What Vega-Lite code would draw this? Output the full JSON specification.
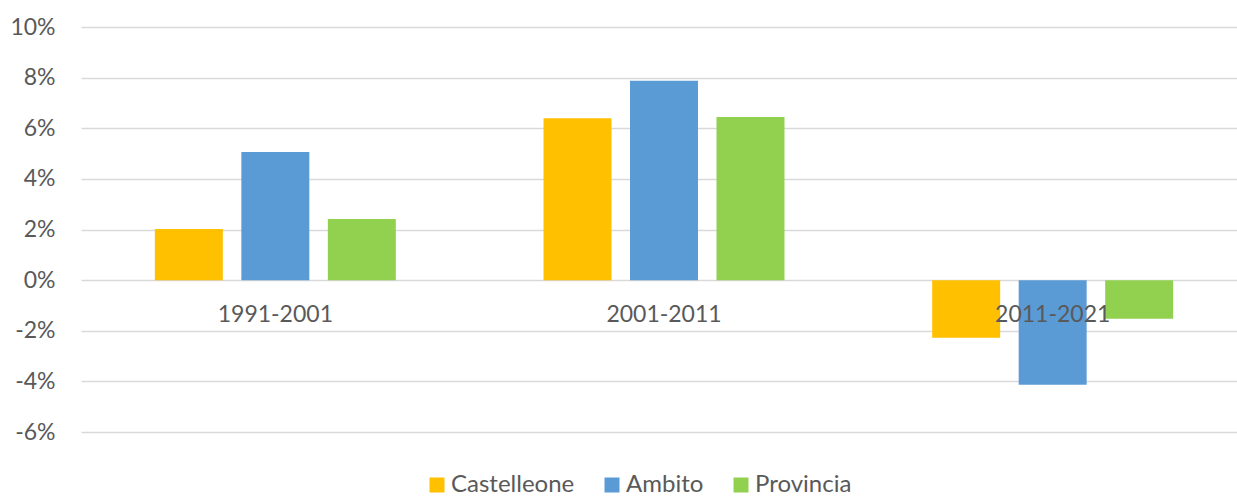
{
  "$schema": "https://vega.github.io/schema/vega-lite/v6.json",
  "width": 1166,
  "height": 405,
  "autosize": {"type": "none"},
  "padding": {"left": 81, "top": 27, "right": 0, "bottom": 64},
  "background": "white",
  "config": {"view": {"stroke": null}, "font": "Lato"},
  "data": {"values": [
    {"periodo": "1991-2001", "serie": "Castelleone", "valore": 0.0202},
    {"periodo": "1991-2001", "serie": "Ambito", "valore": 0.0506},
    {"periodo": "1991-2001", "serie": "Provincia", "valore": 0.0241},
    {"periodo": "2001-2011", "serie": "Castelleone", "valore": 0.064},
    {"periodo": "2001-2011", "serie": "Ambito", "valore": 0.0788},
    {"periodo": "2001-2011", "serie": "Provincia", "valore": 0.0644},
    {"periodo": "2011-2021", "serie": "Castelleone", "valore": -0.0228},
    {"periodo": "2011-2021", "serie": "Ambito", "valore": -0.0413},
    {"periodo": "2011-2021", "serie": "Provincia", "valore": -0.0153}
  ]},
  "mark": {"type": "bar"},
  "encoding": {
    "x": {
      "field": "periodo", "type": "nominal",
      "scale": {"paddingInner": 0.38, "paddingOuter": 0.19},
      "axis": {"title": null, "orient": "bottom", "offset": -152, "domain": false, "ticks": false, "zindex": 1,
               "labelAngle": 0, "labelFontSize": 23, "labelColor": "#595959", "labelPadding": 23, "labelFont": "Lato"}
    },
    "xOffset": {
      "field": "serie", "type": "nominal",
      "sort": ["Castelleone", "Ambito", "Provincia"],
      "scale": {"paddingInner": 0.214, "paddingOuter": 0}
    },
    "y": {
      "field": "valore", "type": "quantitative",
      "scale": {"domain": [-0.06, 0.1], "nice": false},
      "axis": {"title": null, "values": [-0.06, -0.04, -0.02, 0, 0.02, 0.04, 0.06, 0.08, 0.1],
               "labelExpr": "replace(format(datum.value, '.0%'), '\u2212', '-')",
               "domain": false, "ticks": false, "labelPadding": 26, "labelFontSize": 23, "labelColor": "#595959",
               "gridColor": "#d9d9d9", "gridWidth": 1.3, "labelFont": "Lato"}
    },
    "color": {
      "field": "serie", "type": "nominal",
      "sort": ["Castelleone", "Ambito", "Provincia"],
      "scale": {"domain": ["Castelleone", "Ambito", "Provincia"], "range": ["#FFC000", "#5B9BD5", "#92D050"]},
      "legend": {"title": null, "orient": "none", "direction": "horizontal", "legendX": 344, "legendY": 446,
                 "symbolType": "square", "symbolSize": 225, "symbolStrokeWidth": 0, "symbolOpacity": 1,
                 "labelFontSize": 24, "labelColor": "#595959", "labelOffset": 2, "columnPadding": 25, "labelFont": "Lato"}
    }
  }
}
